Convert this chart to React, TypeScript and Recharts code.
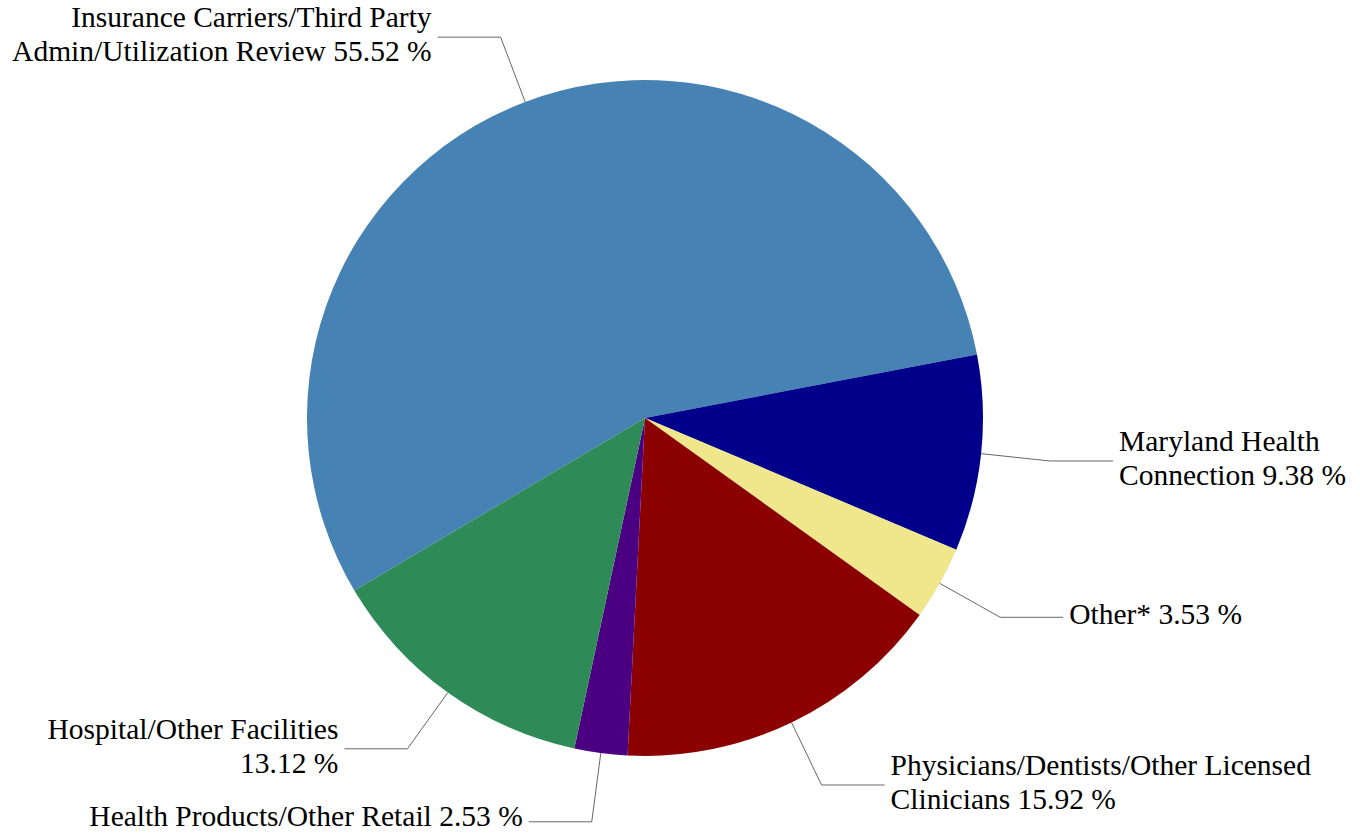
import React from "react";
import { PieChart, Pie, Cell } from "recharts";

const categories = [
  "Insurance Carriers/Third Party Admin/Utilization Review",
  "Maryland Health Connection",
  "Other*",
  "Physicians/Dentists/Other Licensed Clinicians",
  "Health Products/Other Retail",
  "Hospital/Other Facilities",
];
const shares = [55.52, 9.38, 3.53, 15.92, 2.53, 13.12];
const labelLines = [
  ["Insurance Carriers/Third Party", "Admin/Utilization Review"],
  ["Maryland Health", "Connection"],
  ["Other*"],
  ["Physicians/Dentists/Other Licensed", "Clinicians"],
  ["Health Products/Other Retail"],
  ["Hospital/Other Facilities", ""],
];
const colors = ["#4682B4", "#00008B", "#F0E68C", "#8B0000", "#4B0082", "#2E8B57"];

const data = categories.map((name, i) => ({ name, value: shares[i], idx: i }));

const RAD = Math.PI / 180;
const FONT = "'Liberation Serif', 'DejaVu Serif', serif";

const renderLabel = (props: any) => {
  const { cx, cy, midAngle, outerRadius, index } = props;
  const cos = Math.cos(-midAngle * RAD);
  const sin = Math.sin(-midAngle * RAD);
  const sx = cx + outerRadius * cos;
  const sy = cy + outerRadius * sin;
  const r2 = outerRadius * 1.205;
  const mx = cx + r2 * cos;
  const my = cy + r2 * sin;
  const right = cos >= 0;
  const ex = mx + (right ? 63 : -63);
  const tx = ex + (right ? 6 : -6);
  const lines = labelLines[index].slice();
  const last = lines.length - 1;
  lines[last] = (lines[last] + " " + shares[index].toFixed(2) + " %").trim();
  const n = lines.length;
  const lh = 34;
  const by = Math.min(my + 7, 826);
  return (
    <g key={"lbl" + index}>
      <polyline
        points={`${sx},${sy} ${mx},${my} ${ex},${my}`}
        fill="none"
        stroke="#666"
        strokeWidth={1}
      />
      <text
        x={tx}
        y={my}
        textAnchor={right ? "start" : "end"}
        fontFamily={FONT}
        fontSize={29.5}
        fill="#000"
      >
        {lines.map((l, i) => (
          <tspan key={i} x={tx} y={by + (i - (n - 1) / 2) * lh}>
            {l}
          </tspan>
        ))}
      </text>
    </g>
  );
};

export default function App() {
  return (
    <div style={{ position: "absolute", left: 0, top: 0, width: 1360, height: 833, overflow: "hidden" }}>
      <PieChart width={1360} height={833} margin={{ top: 0, right: 0, bottom: 0, left: 0 }}>
        <Pie
          data={data}
          dataKey="value"
          nameKey="name"
          cx={645}
          cy={418}
          outerRadius={338}
          startAngle={210.7}
          endAngle={-149.3}
          stroke="none"
          label={renderLabel}
          labelLine={false}
          isAnimationActive={false}
        >
          {data.map((d, i) => (
            <Cell key={i} fill={colors[i]} />
          ))}
        </Pie>
      </PieChart>
    </div>
  );
}
